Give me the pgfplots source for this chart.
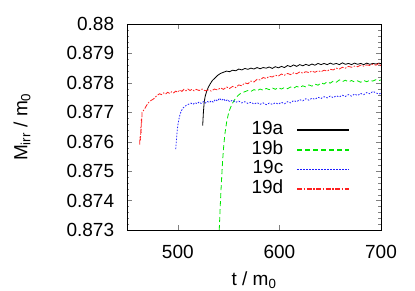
\documentclass[border=0pt]{standalone}
\usepackage{fontspec}
\setmainfont{Liberation Sans}
\usepackage{pgfplots}
\pgfplotsset{compat=1.18}
\definecolor{cgreen}{RGB}{0,230,0}
\definecolor{cblue}{RGB}{30,30,255}
\definecolor{cred}{RGB}{255,30,30}
\begin{document}
\begin{tikzpicture}[font=\fontsize{19bp}{22bp}\selectfont]
\useasboundingbox (-127bp,-61bp) rectangle (288bp,230bp);
\begin{axis}[
  scale only axis, width=254bp, height=206bp,
  anchor=south west, at={(0,0)},
  xmin=450, xmax=700, ymin=0.873, ymax=0.880,
  xtick={500,600,700}, ytick={0.873,0.874,0.875,0.876,0.877,0.878,0.879,0.88},
  minor y tick num=4,
  tick align=inside,
  major tick length=5bp, minor tick length=2.5bp,
  scaled ticks=false,
  /pgf/number format/assume math mode=true,
  yticklabel style={/pgf/number format/fixed,/pgf/number format/precision=3, anchor=east, inner sep=0pt, xshift=-12.7bp},
  xticklabel style={anchor=base, inner sep=0pt, yshift=-28.3bp},
  xlabel={t / m\textsubscript{0}},
  ylabel={M\textsubscript{irr} / m\textsubscript{0}},
  xlabel style={at={(axis description cs:0.5,-0.267)}, anchor=base},
  ylabel style={at={(axis description cs:-0.413,0.5)}, anchor=center},
  legend cell align=right,
  legend plot pos=right,
  legend style={draw=none, fill=none, at={(0.89,0.543)}, anchor=north east,
    column sep=13bp, row sep=0pt,
    nodes={inner sep=0pt, text height=14bp, text depth=5.7bp}},
  legend image code/.code={\draw[#1, line width=1.6bp] (0bp,0bp) -- (52bp,0bp);},
  every axis plot/.append style={line width=0.8bp},
]
\addplot[draw=black, mark=none] coordinates {
(524.5,0.87655)(525.2,0.87700)(526,0.87735)(527,0.87755)(528.5,0.87772)(530,0.87785)(532,0.87797)(534,0.87808)(536.5,0.87816)(539,0.87825)(542,0.87832)(545,0.87836)(548,0.87840)(551,0.87838)(554,0.87843)(557,0.87841)(560,0.87847)(563,0.87844)(566,0.87849)(569,0.87846)(572,0.87850)(575,0.87847)(578,0.87852)(581,0.87848)(584,0.87852)(587,0.87850)(590,0.87854)(593,0.87849)(596,0.87855)(599,0.87851)(602,0.87856)(605,0.87852)(608,0.87859)(611,0.87855)(614,0.87861)(617,0.87856)(620,0.87862)(623,0.87858)(626,0.87863)(629,0.87859)(632,0.87864)(635,0.87860)(638,0.87866)(641,0.87862)(644,0.87866)(647,0.87862)(650,0.87867)(653,0.87863)(656,0.87866)(659,0.87862)(662,0.87868)(665,0.87863)(668,0.87866)(671,0.87862)(674,0.87867)(677,0.87863)(680,0.87866)(683,0.87862)(686,0.87867)(689,0.87863)(692,0.87866)(695,0.87864)(698,0.87867)(700,0.87865)
};
\addlegendentry{19a}
\addplot[draw=cgreen, dash pattern=on 5bp off 3bp, mark=none] coordinates {
(540.8,0.8730)(541.5,0.87360)(542.3,0.87420)(543.2,0.87480)(544.2,0.87540)(545.3,0.87590)(546.5,0.87630)(548,0.87665)(549.5,0.87690)(551,0.87708)(553,0.87725)(555,0.87738)(557,0.87748)(559,0.87756)(561,0.87762)(563,0.87766)(566,0.87770)(569,0.87774)(572,0.87771)(575,0.87777)(578,0.87773)(581,0.87779)(584,0.87775)(587,0.87781)(590,0.87777)(593,0.87783)(596,0.87778)(599,0.87784)(602,0.87779)(605,0.87784)(608,0.87780)(611,0.87786)(614,0.87782)(617,0.87788)(620,0.87784)(623,0.87790)(626,0.87786)(629,0.87793)(632,0.87789)(635,0.87796)(638,0.87792)(641,0.87800)(644,0.87796)(647,0.87804)(650,0.87799)(653,0.87806)(656,0.87802)(659,0.87810)(662,0.87804)(665,0.87809)(668,0.87803)(671,0.87808)(674,0.87803)(677,0.87807)(680,0.87802)(683,0.87808)(686,0.87804)(689,0.87809)(692,0.87806)(695,0.87811)(698,0.87808)(700,0.87810)
};
\addlegendentry{19b}
\addplot[draw=cblue, dash pattern=on 1.5bp off 1.5bp, mark=none] coordinates {
(498,0.87575)(498.5,0.87600)(499.2,0.87630)(500,0.87655)(501,0.87675)(502.2,0.87693)(503.5,0.87705)(505,0.87714)(507,0.87720)(509,0.87725)(511,0.87728)(513,0.87731)(515,0.87727)(517,0.87733)(519,0.87729)(521,0.87735)(523,0.87730)(525,0.87736)(527,0.87731)(529,0.87737)(531,0.87733)(533,0.87739)(535,0.87734)(537,0.87744)(539,0.87738)(541,0.87748)(543,0.87740)(545,0.87746)(547,0.87738)(549,0.87743)(551,0.87736)(554,0.87741)(557,0.87734)(560,0.87738)(563,0.87732)(566,0.87736)(569,0.87730)(572,0.87734)(575,0.87728)(578,0.87733)(581,0.87727)(584,0.87732)(587,0.87726)(590,0.87731)(593,0.87727)(596,0.87732)(599,0.87728)(602,0.87734)(605,0.87729)(608,0.87736)(611,0.87732)(614,0.87740)(617,0.87736)(620,0.87743)(623,0.87739)(626,0.87746)(629,0.87741)(632,0.87748)(635,0.87744)(638,0.87751)(641,0.87747)(644,0.87753)(647,0.87749)(650,0.87755)(653,0.87750)(656,0.87756)(659,0.87752)(662,0.87758)(665,0.87754)(668,0.87760)(671,0.87755)(674,0.87762)(677,0.87757)(680,0.87764)(683,0.87760)(686,0.87767)(689,0.87763)(692,0.87771)(695,0.87766)(698,0.87762)(700,0.87765)
};
\addlegendentry{19c}
\addplot[draw=cred, dash pattern=on 5bp off 1.5bp on 1.5bp off 1.5bp, mark=none] coordinates {
(462.5,0.87590)(462.8,0.87620)(463.3,0.87605)(463.6,0.87650)(463.9,0.87630)(464.2,0.87680)(464.5,0.87665)(464.8,0.87700)(466,0.87705)(467.5,0.87712)(469,0.87722)(470.5,0.87730)(472,0.87736)(474,0.87741)(476,0.87745)(478,0.87752)(480,0.87758)(482,0.87763)(484,0.87760)(486,0.87766)(488,0.87762)(490,0.87768)(492,0.87764)(494,0.87770)(496,0.87766)(498,0.87772)(500,0.87768)(502,0.87776)(504,0.87771)(506,0.87778)(508,0.87773)(510,0.87779)(512,0.87774)(514,0.87778)(516,0.87773)(518,0.87778)(521,0.87774)(524,0.87779)(527,0.87773)(530,0.87776)(533,0.87772)(536,0.87779)(539,0.87776)(542,0.87783)(545,0.87778)(548,0.87786)(551,0.87781)(554,0.87788)(557,0.87784)(560,0.87793)(563,0.87790)(566,0.87800)(569,0.87797)(572,0.87806)(575,0.87803)(578,0.87812)(581,0.87810)(584,0.87818)(587,0.87815)(590,0.87822)(593,0.87820)(596,0.87826)(599,0.87823)(602,0.87830)(605,0.87826)(608,0.87832)(611,0.87828)(614,0.87834)(617,0.87831)(620,0.87837)(623,0.87833)(626,0.87838)(629,0.87835)(632,0.87840)(635,0.87836)(638,0.87841)(641,0.87838)(644,0.87843)(647,0.87840)(650,0.87846)(653,0.87844)(656,0.87850)(659,0.87847)(662,0.87853)(665,0.87850)(668,0.87856)(671,0.87853)(674,0.87857)(677,0.87855)(680,0.87860)(683,0.87857)(686,0.87861)(689,0.87859)(692,0.87864)(695,0.87860)(698,0.87866)(700,0.87856)
};
\addlegendentry{19d}
\end{axis}
\end{tikzpicture}
\end{document}
